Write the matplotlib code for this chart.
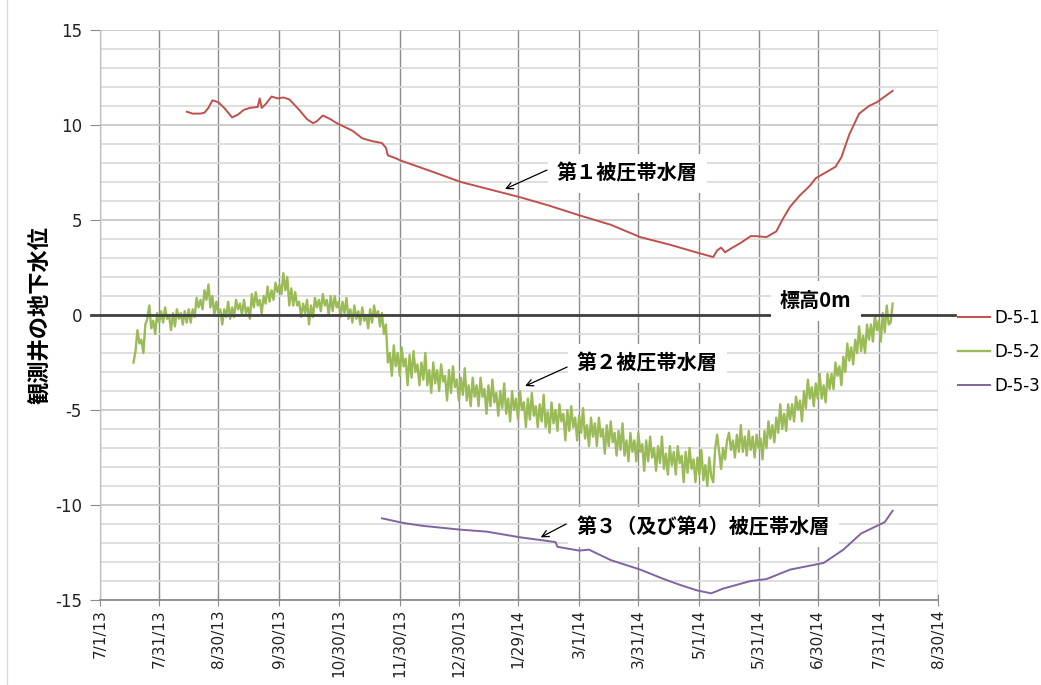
import datetime as dt
import matplotlib
matplotlib.use("Agg")
import matplotlib.pyplot as plt
import matplotlib.dates as mdates
from matplotlib.lines import Line2D
from matplotlib.ticker import MultipleLocator, FixedLocator, FixedFormatter

START = dt.datetime(2013, 7, 1)

# x-axis tick labels (m/d/yy)
tick_labels = ["7/1/13", "7/31/13", "8/30/13", "9/30/13", "10/30/13", "11/30/13",
               "12/30/13", "1/29/14", "3/1/14", "3/31/14", "5/1/14", "5/31/14",
               "6/30/14", "7/31/14", "8/30/14"]

series_names = ["D-5-1", "D-5-2", "D-5-3"]

# D-5-1 : days after 2013-07-01 and level [m]
red_days = [44, 47, 51, 53, 55, 57, 60, 63, 67, 70, 73, 76, 80, 81, 82, 84, 87, 90, 93, 96,
            101, 105, 108, 110, 113, 117, 120, 123, 128, 133, 138, 143, 145, 146, 150, 152,
            167, 183, 198, 213, 228, 243, 259, 274, 289, 304, 311, 313, 315, 317, 320, 325,
            330, 333, 338, 343, 346, 350, 355, 360, 363, 368, 373, 376, 380, 385, 390, 394,
            398, 402]
red_vals = [10.7, 10.6, 10.6, 10.65, 10.9, 11.3, 11.2, 10.9, 10.4, 10.55, 10.8, 10.9, 10.95,
            11.4, 10.9, 11.1, 11.5, 11.4, 11.45, 11.35, 10.8, 10.3, 10.1, 10.2, 10.5, 10.3,
            10.1, 9.95, 9.7, 9.3, 9.15, 9.05, 8.8, 8.4, 8.25, 8.15, 7.6, 7.0, 6.6, 6.2, 5.75,
            5.25, 4.75, 4.1, 3.7, 3.25, 3.05, 3.4, 3.55, 3.3, 3.5, 3.8, 4.15, 4.15, 4.1, 4.4,
            5.0, 5.7, 6.3, 6.8, 7.2, 7.5, 7.8, 8.3, 9.5, 10.6, 11.0, 11.2, 11.5, 11.8]

# D-5-2 : daily readings from day 17 (2013-07-18) to day 402
green_first_day = 17
green_vals = [
    -2.5, -1.9, -0.8, -1.5, -1.3, -2.0, -0.5, -0.2, 0.5, -0.7, -0.3, -1.0, 0.1, -0.4, 0.2, -0.4, 0.4, -0.2, 0.0, -0.8,
    0.1, -0.6, 0.3, -0.2, 0.1, -0.5, 0.2, -0.4, 0.3, -0.4, 0.3, -0.1, 0.9, 0.4, 0.8, 0.3, 1.3, 0.8, 1.6, 0.4,
    1.0, 0.0, 0.7, 0.1, 0.3, -0.5, 0.3, -0.1, 0.7, -0.2, 0.4, -0.1, 0.8, 0.3, 0.6, 0.0, 0.8, 0.1, 0.4, -0.2,
    1.1, 0.4, 1.2, 0.5, 0.8, 0.1, 1.0, 0.6, 1.5, 0.7, 1.3, 0.8, 1.7, 1.2, 1.6, 1.1, 2.2, 1.3, 2.0, 0.5,
    1.4, 0.5, 1.2, 0.5, 0.7, -0.1, 0.6, 0.1, 0.8, -0.5, 0.5, -0.1, 0.9, 0.4, 0.8, 0.2, 1.1, 0.5, 0.8, 0.0,
    1.0, 0.2, 1.0, 0.4, 0.7, -0.1, 0.7, 0.1, 0.9, -0.2, 0.3, -0.4, 0.5, -0.2, 0.2, -0.5, 0.4, -0.3, 0.0, -0.7,
    0.3, -0.4, 0.5, -0.1, 0.2, -0.6, 0.1, -1.0, -0.5, -2.5, -2.0, -3.2, -1.6, -2.7, -2.0, -3.2, -1.7, -2.7, -2.3, -3.7,
    -2.1, -3.3, -1.9, -3.0, -2.6, -3.7, -2.5, -3.4, -2.0, -3.7, -2.9, -4.1, -2.5, -3.6, -2.9, -4.0, -2.6, -3.5, -3.2, -4.5,
    -2.9, -4.1, -2.7, -3.8, -3.4, -4.5, -3.3, -4.2, -2.8, -4.5, -3.7, -4.8, -3.3, -4.3, -3.7, -4.8, -3.3, -4.3, -3.9, -5.2,
    -3.7, -4.8, -3.4, -4.6, -4.1, -5.3, -4.0, -4.9, -3.6, -5.2, -4.4, -5.6, -4.0, -5.0, -4.4, -5.5, -4.0, -5.0, -4.6, -5.9,
    -4.4, -5.5, -4.1, -5.3, -4.8, -5.9, -4.7, -5.6, -4.2, -5.9, -5.1, -6.2, -4.6, -5.7, -5.0, -6.1, -4.7, -5.6, -5.2, -6.6,
    -5.0, -6.1, -4.8, -5.9, -5.4, -6.6, -5.3, -6.2, -4.9, -6.5, -5.8, -6.9, -5.4, -6.4, -5.7, -6.9, -5.4, -6.4, -6.0, -7.3,
    -5.8, -6.9, -5.6, -6.7, -6.2, -7.4, -6.1, -7.1, -5.7, -7.4, -6.6, -7.7, -6.2, -7.2, -6.6, -7.7, -6.2, -7.2, -6.8, -8.2,
    -6.6, -7.7, -6.4, -7.5, -7.0, -8.2, -6.9, -7.8, -6.4, -8.1, -7.3, -8.4, -6.9, -7.9, -7.2, -8.4, -6.9, -7.8, -7.4, -8.8,
    -7.2, -8.3, -7.0, -8.1, -7.6, -8.8, -7.5, -8.4, -7.1, -8.7, -7.9, -9.0, -7.5, -8.5, -8.8, -7.0, -6.3, -7.2, -8.1, -7.0,
    -7.6, -6.6, -6.2, -7.1, -6.6, -7.5, -6.3, -7.2, -5.8, -7.2, -6.4, -7.4, -6.1, -7.1, -6.4, -7.5, -6.3, -7.0, -6.5, -7.6,
    -6.1, -7.0, -5.6, -6.5, -5.8, -6.7, -5.4, -6.2, -4.7, -6.0, -5.2, -6.1, -4.7, -5.5, -4.7, -5.6, -4.3, -5.0, -4.5, -5.6,
    -4.0, -4.9, -3.4, -4.4, -3.8, -4.8, -3.6, -4.4, -3.1, -4.4, -3.7, -4.6, -3.1, -3.9, -3.1, -3.9, -2.5, -3.2, -2.7, -3.7,
    -2.2, -3.0, -1.5, -2.4, -1.7, -2.6, -1.3, -2.0, -0.6, -1.9, -1.1, -2.0, -0.5, -1.3, -0.5, -1.4, 0.0, -0.8, -0.3, -1.4,
    0.1, -0.9, 0.5, -0.5, -0.4, 0.6,
]

# D-5-3 : days after 2013-07-01 and level [m]
pur_days = [143, 154, 164, 183, 196, 213, 231, 232, 243, 248, 259, 274, 286, 294, 303, 310,
            316, 330, 338, 350, 367, 377, 386, 398, 402]
pur_vals = [-10.7, -10.95, -11.1, -11.3, -11.4, -11.7, -11.95, -12.2, -12.4, -12.35, -12.9,
            -13.4, -13.9, -14.2, -14.5, -14.65, -14.4, -14.0, -13.9, -13.4, -13.05, -12.35,
            -11.5, -10.9, -10.3]


def day(d):
    return START + dt.timedelta(days=d)


CJK = ['Noto Sans CJK JP', 'DejaVu Sans']
plt.rcParams['font.family'] = ['DejaVu Sans']
plt.rcParams['axes.unicode_minus'] = False

W, H = 1041, 685
fig = plt.figure(figsize=(W / 100, H / 100), dpi=100)
ax = fig.add_axes([100 / W, 85 / H, 838 / W, 570 / H])

red_x = [day(d) for d in red_days]
green_x = [day(green_first_day + i) for i in range(len(green_vals))]
pur_x = [day(d) for d in pur_days]

l1, = ax.plot(red_x, red_vals, color='#C0504D', lw=1.4, zorder=3)
l2, = ax.plot(green_x, green_vals, color='#9BBB59', lw=1.7, zorder=3)
l3, = ax.plot(pur_x, pur_vals, color='#8064A2', lw=1.4, zorder=3)

# axes limits and ticks
tick_dates = [dt.datetime.strptime(s, "%m/%d/%y") for s in tick_labels]
ax.set_xlim(tick_dates[0], tick_dates[-1])
ax.set_ylim(-15, 15)
ax.xaxis.set_major_locator(FixedLocator(mdates.date2num(tick_dates)))
ax.xaxis.set_major_formatter(FixedFormatter(tick_labels))
ax.yaxis.set_major_locator(MultipleLocator(5))
ax.yaxis.set_minor_locator(MultipleLocator(1))

ax.set_axisbelow(True)
ax.grid(axis='y', which='minor', color='#D9D9D9', lw=1.2)
ax.grid(axis='y', which='major', color='#C4C4C4', lw=1.2)
ax.grid(axis='x', which='major', color='#8C8C8C', lw=1.0)

for s in ('top', 'right'):
    ax.spines[s].set_visible(False)
ax.spines['left'].set_color('#BFBFBF')
ax.spines['bottom'].set_color('#8C8C8C')
ax.spines['bottom'].set_linewidth(1.3)

ax.tick_params(axis='y', which='major', direction='out', length=7, color='#8C8C8C',
               labelsize=12, pad=6, labelcolor='#222222')
ax.tick_params(axis='y', which='minor', length=0)
ax.tick_params(axis='x', which='major', direction='inout', length=9, color='#8C8C8C',
               labelsize=11, pad=2, labelrotation=90, labelcolor='#222222')

# elevation 0 m reference line
ax.plot([-0.011, 1.02], [0.5, 0.5], transform=ax.transAxes, clip_on=False,
        color='#404040', lw=2.0, zorder=4)

ax.set_ylabel("観測井の地下水位", fontsize=16, fontweight='bold', family=CJK)
ax.yaxis.set_label_coords(-0.058, 0.5)

box = dict(facecolor='white', edgecolor='none', boxstyle='square,pad=0.45')
arrow = dict(arrowstyle='->', color='black', lw=0.9, shrinkA=0, shrinkB=0,
             mutation_scale=12)

ax.text(day(231.8), 7.47, "第１被圧帯水層", fontsize=14.5, fontweight='bold',
        family=CJK, va='center', ha='left', bbox=box, zorder=5)
ax.annotate("", xy=(day(205.4), 6.63), xytext=(day(226.7), 7.63), arrowprops=arrow, zorder=6)

ax.text(day(241.9), -2.53, "第２被圧帯水層", fontsize=14.5, fontweight='bold',
        family=CJK, va='center', ha='left', bbox=box, zorder=5)
ax.annotate("", xy=(day(215.6), -3.74), xytext=(day(236.9), -2.74), arrowprops=arrow, zorder=6)

ax.text(day(241.9), -11.16, "第３（及び第4）被圧帯水層", fontsize=14.5, fontweight='bold',
        family=CJK, va='center', ha='left', bbox=box, zorder=5)
ax.annotate("", xy=(day(223.5), -11.7), xytext=(day(236.4), -11.0), arrowprops=arrow, zorder=6)

ax.text(day(344.9), 0.74, "標高0m", fontsize=14.5, fontweight='bold',
        family=CJK, va='center', ha='left', bbox=box, zorder=5)

fig.legend([l1, l2, l3], series_names, loc='center left',
           bbox_to_anchor=(958 / W, 1 - 352 / H), frameon=False, fontsize=12,
           handlelength=1.9, handletextpad=0.3, labelspacing=0.95,
           borderpad=0, borderaxespad=0)

fig.add_artist(Line2D([7 / W, 7 / W], [0, 1], color='#D9D9D9', lw=1))

fig.savefig("out.png", dpi=100)
